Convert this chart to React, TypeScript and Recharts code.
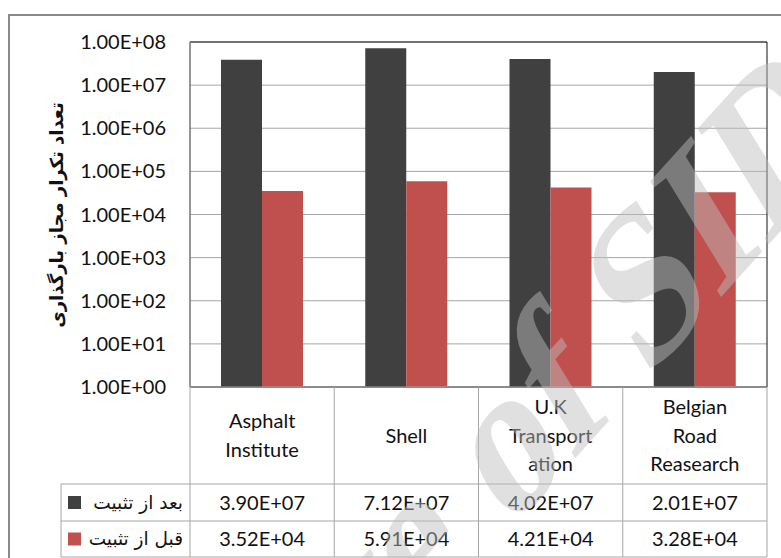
import React from 'react';
import { BarChart, Bar, XAxis, YAxis, CartesianGrid, ReferenceArea } from 'recharts';

// ---------- data ----------
const categoryLines: string[][] = [
  ['Asphalt', 'Institute'],
  ['Shell'],
  ['U.K', 'Transport', 'ation'],
  ['Belgian', 'Road', 'Reasearch'],
];
const afterStabilization = [3.90e7, 7.12e7, 4.02e7, 2.01e7];
const beforeStabilization = [3.52e4, 5.91e4, 4.21e4, 3.28e4];
const seriesNames = ['بعد از تثبیت', 'قبل از تثبیت'];
const seriesColors = ['#404040', '#c0504d'];
const yTicks = [1, 10, 100, 1e3, 1e4, 1e5, 1e6, 1e7, 1e8];
const yTitle = 'تعداد تکرار مجاز بارگذاری';
const watermarkHead = 'Archive of\u00A0';
const watermarkTail = 'SID';

const data = categoryLines.map((lines, i) => ({
  name: lines.join(' '),
  after: afterStabilization[i],
  before: beforeStabilization[i],
}));

// ---------- layout ----------
const W = 781;
const H = 558;
const PLOT_L = 190;
const PLOT_R = 767;
const PLOT_T = 42;
const PLOT_B = 387;
const ROW1 = 484;
const ROW2 = 521;
const ROW3 = 557;
const LEG_L = 61;
const BAND = (PLOT_R - PLOT_L) / categoryLines.length;
const GRID = '#a6a6a6';
const FONT = 'Lato, "Liberation Sans", sans-serif';
const FA_FONT = '"DejaVu Sans", sans-serif';
const FS = 20;

function sci(v: number): string {
  const [m, e] = v.toExponential(2).split('e');
  const n = parseInt(e, 10);
  return m + 'E' + (n < 0 ? '-' : '+') + String(Math.abs(n)).padStart(2, '0');
}

function TableTick(props: any) {
  const { x, payload } = props;
  const i: number = payload && payload.index != null ? payload.index : props.index;
  const left = x - BAND / 2;
  const right = x + BAND / 2;
  const lines = categoryLines[i];
  const headerMid = (PLOT_B + ROW1) / 2;
  const lh = 28.5;
  const rowMid1 = (ROW1 + ROW2) / 2;
  const rowMid2 = (ROW2 + ROW3) / 2;
  const ln = { stroke: GRID, strokeWidth: 1 };
  const txt = { fontFamily: FONT, fontSize: FS, fill: '#111' };
  const base = 7;
  return (
    <g>
      {i === 0 && <line x1={left} x2={left} y1={PLOT_B} y2={ROW3} {...ln} />}
      <line x1={right} x2={right} y1={PLOT_B} y2={ROW3} {...ln} />
      <line x1={left} x2={right} y1={ROW1} y2={ROW1} {...ln} />
      <line x1={left} x2={right} y1={ROW2} y2={ROW2} {...ln} />
      <line x1={left} x2={right} y1={ROW3} y2={ROW3} {...ln} />
      {lines.map((t, k) => (
        <text key={k} x={x} y={headerMid + (k - (lines.length - 1) / 2) * lh + base} textAnchor="middle" {...txt}>
          {t}
        </text>
      ))}
      <text x={x} y={rowMid1 + base} textAnchor="middle" {...txt}>{sci(afterStabilization[i])}</text>
      <text x={x} y={rowMid2 + base} textAnchor="middle" {...txt}>{sci(beforeStabilization[i])}</text>
      {i === 0 && (
        <g>
          <line x1={LEG_L} x2={left} y1={ROW1} y2={ROW1} {...ln} />
          <line x1={LEG_L} x2={left} y1={ROW2} y2={ROW2} {...ln} />
          <line x1={LEG_L} x2={left} y1={ROW3} y2={ROW3} {...ln} />
          <line x1={LEG_L} x2={LEG_L} y1={ROW1} y2={ROW3} {...ln} />
          {[rowMid1, rowMid2].map((cy, k) => (
            <g key={k}>
              <rect x={68} y={cy - 6.5} width={13} height={13} fill={seriesColors[k]} />
              <text x={left - 7} y={cy + 6} textAnchor="end" fontFamily={FA_FONT} fontSize={18.5} fill="#111">
                {seriesNames[k]}
              </text>
            </g>
          ))}
        </g>
      )}
    </g>
  );
}

function YTitle() {
  const cx = 56;
  const cy = 215;
  return (
    <text
      x={cx}
      y={cy}
      transform={`rotate(-90, ${cx}, ${cy})`}
      textAnchor="middle"
      dominantBaseline="central"
      fontFamily={FA_FONT}
      fontWeight="bold"
      fontSize={18}
      fill="#111"
    >
      {yTitle}
    </text>
  );
}

export default function App() {
  // watermark geometry (skewed, rotated serif text)
  const wm = 'matrix(0.67 -0.74 0.57 0.93 646 380)';
  return (
    <div style={{ position: 'absolute', left: 0, top: 0, width: W, height: H, overflow: 'hidden', background: '#fff' }}>
      <div
        style={{
          position: 'absolute',
          left: 8,
          top: 14,
          width: W + 40,
          height: H + 40,
          border: '2px solid #8a8a8a',
          boxSizing: 'border-box',
        }}
      />
      <div style={{ position: 'absolute', left: 0, top: 0 }}>
        <BarChart
          width={W}
          height={H}
          data={data}
          margin={{ top: PLOT_T, right: W - PLOT_R, bottom: 0, left: 40 }}
          barCategoryGap={31}
          barGap={0}
        >
          <CartesianGrid vertical={false} stroke={GRID} strokeWidth={1} />
          <ReferenceArea y1={1} y2={1e8} stroke="#111" strokeWidth={1} fill="none" fillOpacity={0} ifOverflow="visible" />
          <XAxis
            dataKey="name"
            interval={0}
            height={H - PLOT_B}
            axisLine={{ stroke: GRID }}
            tickLine={false}
            tick={(p: any) => <TableTick {...p} />}
          />
          <YAxis
            type="number"
            scale="log"
            domain={[1, 1e8]}
            ticks={yTicks}
            allowDataOverflow
            width={PLOT_L - 40}
            axisLine={{ stroke: GRID }}
            tickLine={false}
            tickSize={0}
            tickMargin={24}
            tickFormatter={(v: number) => sci(v)}
            tick={{ fontFamily: FONT, fontSize: FS, fill: '#111' }}
            label={{ content: () => <YTitle /> }}
          />
          <Bar dataKey="after" name={seriesNames[0]} fill={seriesColors[0]} isAnimationActive={false} />
          <Bar dataKey="before" name={seriesNames[1]} fill={seriesColors[1]} isAnimationActive={false} />
        </BarChart>
      </div>
      <svg width={W} height={H} style={{ position: 'absolute', left: 0, top: 0, pointerEvents: 'none' }}>
        <g transform={wm} fill="rgb(189,189,189)" fillOpacity={0.47} fontFamily='"Liberation Serif", "DejaVu Serif", serif' fontWeight="bold" fontSize={190}>
          <text x={0} y={0} textAnchor="end">{watermarkHead}</text>
          <text x={0} y={0} textAnchor="start">{watermarkTail}</text>
        </g>
      </svg>
    </div>
  );
}
